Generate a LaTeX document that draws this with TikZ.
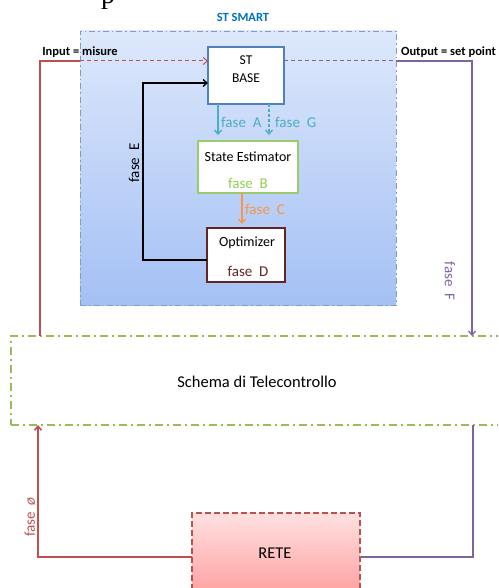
\documentclass[tikz,border=0pt]{standalone}
\usepackage{fontspec}
\setmainfont{Carlito}
\newfontfamily\headserif{Liberation Serif}
\usetikzlibrary{arrows.meta}

\definecolor{smartblue}{HTML}{0070C0}
\definecolor{smartedge}{HTML}{7F9CC8}
\definecolor{smarttop}{HTML}{DDE8FB}
\definecolor{smartbot}{HTML}{A4C0F4}
\definecolor{baseblue}{HTML}{4F81BD}
\definecolor{tealc}{HTML}{4BACC6}
\definecolor{estgreen}{HTML}{9BCB6A}
\definecolor{fasebgreen}{HTML}{92D050}
\definecolor{orangec}{HTML}{F79646}
\definecolor{optbrown}{HTML}{632523}
\definecolor{redc}{HTML}{C0504D}
\definecolor{purplec}{HTML}{8064A2}
\definecolor{schemagreen}{HTML}{9BBB59}
\definecolor{retetop}{HTML}{FFE0E0}
\definecolor{retebot}{HTML}{FFA3A3}

\tikzset{
  boxnode/.style={inner sep=0pt, outer sep=0pt, fill=white},
  txt/.style={inner sep=0pt, font=\fontsize{14}{16}\selectfont},
  fasetxt/.style={inner sep=0pt, font=\fontsize{15}{17}\selectfont},
  boldtxt/.style={inner sep=0pt, font=\bfseries\fontsize{12.5}{14}\selectfont},
  conn/.style={line width=1.3pt},
  tip/.style={-{Straight Barb[length=4pt,width=7pt]}},
}

\begin{document}
\begin{tikzpicture}[x=1pt,y=-1pt]
\clip (0,0) rectangle (498,588);

% descender of the heading line above the figure
\node[inner sep=0pt, anchor=base, font=\headserif\fontsize{28}{28}\selectfont] (headA) at (108,3.5) {p};

% ST SMART container
\node[boxnode, draw=smartedge, line width=0.9pt,
      dash pattern=on 6pt off 3pt on 1.5pt off 3pt,
      top color=smarttop, bottom color=smartbot,
      minimum width=316pt, minimum height=274pt] (smart) at (238,168) {};
\node[boldtxt, text=smartblue] (smartTitle) at (243,17) {ST SMART};
\node[boldtxt] (inLbl) at (80,52) {Input = misure};
\node[boldtxt] (outLbl) at (448.5,52) {Output = set point};

% inner blocks
\node[boxnode, draw=baseblue, line width=1.8pt, minimum width=76pt, minimum height=57pt] (stbase) at (246,75.5) {};
\node[inner sep=0pt, align=center, font=\fontsize{13.5}{18}\selectfont] (stbaseTxt) at (246,69) {ST\\BASE};

\node[boxnode, draw=estgreen, line width=1.6pt, minimum width=100pt, minimum height=52pt] (state) at (248,167) {};
\node[txt] (stateTxt) at (248,157) {State Estimator};
\node[fasetxt, text=fasebgreen] (faseB) at (248,183) {fase\ \ B};

\node[boxnode, draw=optbrown, line width=1.8pt, minimum width=78pt, minimum height=54pt] (opt) at (246,255) {};
\node[txt] (optTxt) at (247,243) {Optimizer};
\node[fasetxt, text=optbrown] (faseD) at (248,271) {fase\ \ D};

% Schema di Telecontrollo
\node[inner sep=0pt, outer sep=0pt, draw=schemagreen, line width=1.3pt,
      dash pattern=on 8pt off 4pt on 2pt off 4pt,
      minimum width=499pt, minimum height=89pt] (schema) at (260.5,380.5) {};
\node[inner sep=0pt, font=\fontsize{16.5}{18}\selectfont] (schemaTxt) at (257,382) {Schema di Telecontrollo};

% RETE
\node[inner sep=0pt, outer sep=0pt, draw=redc, line width=1.1pt, dash pattern=on 6pt off 3pt,
      top color=retetop, bottom color=retebot,
      minimum width=168pt, minimum height=79pt] (rete) at (276,552.5) {};
\node[inner sep=0pt, font=\fontsize{16.5}{18}\selectfont] (reteTxt) at (275,553) {RETE};

% corner points of the connectors
\coordinate (xa) at (218,0);
\coordinate (xg) at (269,0);
\coordinate (xc) at (242,0);
\coordinate (eLow) at (143,260);
\coordinate (eHigh) at (143,83);
\coordinate (inCorner) at (40,61);
\coordinate (outCorner) at (472,61);
\coordinate (phiCorner) at (38,557);
\coordinate (fCorner) at (473,557);

% fasi A, G, C
\draw[conn, tealc, tip, shorten >=6pt] (stbase.south -| xa) -- (state.north -| xa);
\draw[conn, tealc, tip, shorten >=6pt, dash pattern=on 3pt off 2pt] (stbase.south -| xg) -- (state.north -| xg);
\draw[conn, orangec, tip, shorten >=4pt] (state.south -| xc) -- (opt.north -| xc);
\node[fasetxt, text=tealc, anchor=west] (faseA) at (221,122) {fase\ \ A};
\node[fasetxt, text=tealc, anchor=west] (faseG) at (275,122) {fase\ \ G};
\node[fasetxt, text=orangec, anchor=west] (faseC) at (245,209) {fase\ \ C};

% fase E feedback
\draw[conn, black, tip] (opt.west |- eLow) -- (eLow) -- (eHigh) -- (stbase.west |- eHigh);
\node[fasetxt, rotate=90] (faseE) at (134,163) {fase\ \ E};

% input / output lines
\draw[conn, redc] (schema.north -| inCorner) -- (inCorner) -- (smart.west |- inCorner);
\draw[line width=1pt, redc, tip, dash pattern=on 4pt off 3pt] (smart.west |- inCorner) -- (stbase.west |- inCorner);
\draw[line width=1pt, purplec, dash pattern=on 4pt off 3pt] (stbase.east |- outCorner) -- (smart.east |- outCorner);
\draw[conn, purplec, tip] (smart.east |- outCorner) -- (outCorner) -- (schema.north -| outCorner);
\node[fasetxt, text=purplec, rotate=-90] (faseF) at (450,281) {fase\ \ F};

% network loop
\draw[line width=1.6pt, redc, tip] (rete.west |- phiCorner) -- (phiCorner) -- (schema.south -| phiCorner);
\node[fasetxt, text=redc, rotate=90] (fasePhi) at (30,517) {fase\ \ \textit{ø}};
\draw[line width=1.6pt, purplec] (rete.east |- fCorner) -- (fCorner) -- (schema.south -| fCorner);
\end{tikzpicture}
\end{document}
